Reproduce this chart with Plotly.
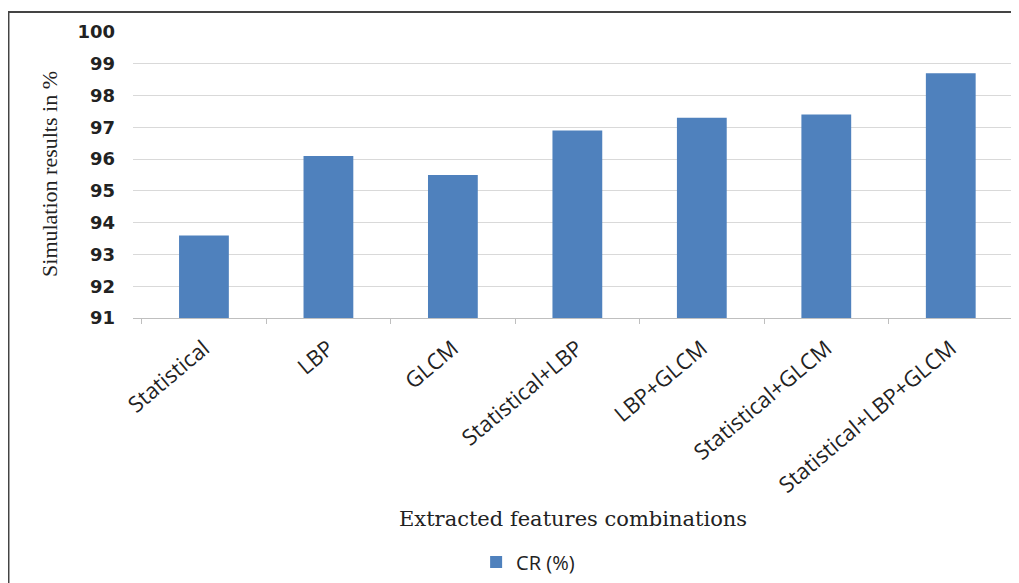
import plotly.graph_objects as go

categories = ["Statistical", "LBP", "GLCM", "Statistical+LBP", "LBP+GLCM",
              "Statistical+GLCM", "Statistical+LBP+GLCM"]
cr_values = [93.6, 96.1, 95.5, 96.9, 97.3, 97.4, 98.7]
y_ticks = [91, 92, 93, 94, 95, 96, 97, 98, 99, 100]

fig = go.Figure()
fig.add_trace(go.Bar(x=categories, y=cr_values, name="CR (%)",
                     marker=dict(color="#4f81bd", line=dict(width=0)),
                     showlegend=True))

fig.update_layout(
    width=1019, height=583,
    margin=dict(l=125, r=14, t=24, b=272),
    paper_bgcolor="white", plot_bgcolor="white",
    bargap=0.6,
    showlegend=True,
    legend=dict(orientation="h", x=0.449, xanchor="center", y=-0.847, yanchor="middle",
                font=dict(family="Open Sans", size=20, color="#222"),
                itemwidth=30),
    xaxis=dict(range=[-0.57, 6.5], showgrid=False, showline=True, linecolor="#bfbfbf",
               linewidth=1, ticks="outside", tickson="boundaries", ticklen=5,
               tickcolor="#bfbfbf", tickangle=-40, ticklabelstandoff=8,
               tickfont=dict(family="Open Sans", size=22, color="#222")),
    yaxis=dict(range=[91, 100], tickvals=y_ticks, showgrid=True, gridcolor="#d9d9d9",
               gridwidth=1, zeroline=False, showline=False, ticks="",
               ticklabelstandoff=17,
               tickfont=dict(family="DejaVu Sans", size=18, color="#222", weight="bold")),
    annotations=[
        dict(text="Extracted features combinations", xref="paper", yref="paper",
             x=0.5, y=-0.704, xanchor="center", yanchor="middle", showarrow=False,
             font=dict(family="DejaVu Serif", size=21, color="#222")),
        dict(text="Simulation results in %", xref="paper", yref="paper",
             x=-0.095, y=0.505, xanchor="center", yanchor="middle", showarrow=False,
             textangle=-90,
             font=dict(family="Liberation Serif", size=22, color="#222")),
    ],
    shapes=[dict(type="rect", xref="paper", yref="paper", x0=-0.1415, x1=1.05,
                 y0=-1.1, y1=1.0697, line=dict(color="#444", width=2), layer="below")],
)

fig.write_html("out.html")
